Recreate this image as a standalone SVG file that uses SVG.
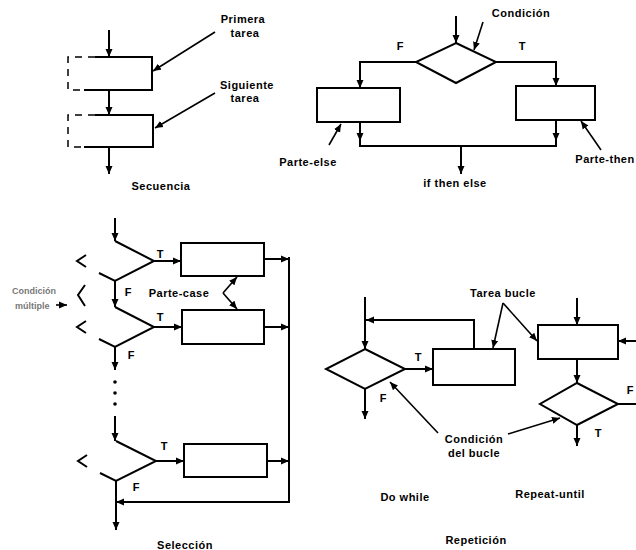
<svg xmlns="http://www.w3.org/2000/svg" width="636" height="550" viewBox="0 0 636 550">
<style>
.ln{fill:none;stroke:#000;stroke-width:2;stroke-linejoin:miter;stroke-linecap:butt}
.thin{fill:none;stroke:#000;stroke-width:1.6}
.dash{fill:none;stroke:#000;stroke-width:1.5;stroke-dasharray:7,6}
.box{fill:#fff;stroke:#000;stroke-width:2}
.t{font-family:"Liberation Sans",Arial,sans-serif;font-weight:bold;font-size:11px;letter-spacing:0.5px;fill:#000;text-anchor:middle}
.lbl{font-family:"Liberation Sans",Arial,sans-serif;font-weight:bold;font-size:11px;fill:#000;text-anchor:middle}
.faint{font-family:"Liberation Sans",Arial,sans-serif;font-weight:bold;font-size:9px;fill:#000;opacity:0.55}
</style>
<defs>
<marker id="ah" markerUnits="userSpaceOnUse" markerWidth="9" markerHeight="8" refX="8" refY="4" orient="auto">
<path d="M0,0.5 L8,4 L0,7.5 z" fill="#000"/>
</marker>
</defs>
<rect width="636" height="550" fill="#fff"/>

<g id="secuencia">
<path class="ln" d="M95,57 H152 V90 H84"/>
<path class="dash" d="M95,57 H68 V90 H84"/>
<path class="ln" d="M95,115 H153 V147 H84"/>
<path class="dash" d="M95,115 H68 V147 H84"/>
<text class="t" x="243" y="23">Primera</text>
<text class="t" x="245" y="37">tarea</text>
<text class="t" x="247" y="89">Siguiente</text>
<text class="t" x="245" y="102">tarea</text>
<text class="t" x="161" y="190">Secuencia</text>
</g>

<g id="if-then-else">
<polygon class="ln" points="456,43 496,62 456,83 416,62"/>
<rect class="box" x="317" y="88" width="83" height="34"/>
<rect class="box" x="516" y="86" width="79" height="34"/>
<text class="t" x="521" y="17">Condición</text>
<text class="lbl" x="400" y="50">F</text>
<text class="lbl" x="522" y="50">T</text>
<text class="t" x="308" y="166">Parte-else</text>
<text class="t" x="605" y="163">Parte-then</text>
<text class="t" x="455" y="187">if then else</text>
</g>

<g id="seleccion">
<path class="ln" d="M115,241 L154,261 L115,281 L99,273"/>
<path class="ln" d="M86,255 L77,261 L86,267"/>
<path class="ln" d="M115,307 L154,327 L115,347 L99,339"/>
<path class="ln" d="M86,321 L77,327 L86,333"/>
<path class="ln" d="M116,441 L156,461 L116,481 L100,473"/>
<path class="ln" d="M87,455 L78,461 L87,467"/>
<rect class="box" x="181" y="243" width="83" height="33"/>
<rect class="box" x="182" y="310" width="82" height="34"/>
<rect class="box" x="184" y="444" width="83" height="33"/>
<circle cx="115" cy="382" r="1.8"/>
<circle cx="115" cy="393" r="1.8"/>
<circle cx="115" cy="404" r="1.8"/>
<text class="lbl" x="160" y="258">T</text>
<text class="lbl" x="128" y="296">F</text>
<text class="lbl" x="160" y="321">T</text>
<text class="lbl" x="131" y="359">F</text>
<text class="lbl" x="164" y="450">T</text>
<text class="lbl" x="136" y="491">F</text>
<text class="t" x="179" y="297">Parte-case</text>
<text class="faint" x="12" y="294">Condición</text>
<text class="faint" x="15" y="309">múltiple</text>
<path class="ln" d="M85,285 L78,295 L85,306"/>
<text class="t" x="185" y="549">Selección</text>
</g>

<g id="repeticion">
<polygon class="ln" points="365,349 405,369 365,389 326,369"/>
<rect class="box" x="433" y="349" width="82" height="36"/>
<rect class="box" x="538" y="325" width="80" height="34"/>
<polygon class="ln" points="577,383 618,404 577,425 540,404"/>
<text class="lbl" x="418" y="361">T</text>
<text class="lbl" x="383" y="402">F</text>
<text class="lbl" x="630" y="394">F</text>
<text class="lbl" x="598" y="437">T</text>
<text class="t" x="503" y="297">Tarea bucle</text>
<text class="t" x="474" y="443">Condición</text>
<text class="t" x="474" y="457">del bucle</text>
<text class="t" x="405" y="501">Do while</text>
<text class="t" x="550" y="498">Repeat-until</text>
<text class="t" x="476" y="544">Repetición</text>
</g>

<g id="connectors">
<!-- secuencia -->
<path class="ln" d="M109,30 V57" marker-end="url(#ah)"/>
<path class="ln" d="M109,90 V115" marker-end="url(#ah)"/>
<path class="ln" d="M109,147 V174" marker-end="url(#ah)"/>
<path class="thin" d="M215,32 L153,71" marker-end="url(#ah)"/>
<path class="thin" d="M215,93 L155,128" marker-end="url(#ah)"/>
<!-- if then else -->
<path class="ln" d="M456,16 V43" marker-end="url(#ah)"/>
<path class="ln" d="M416,62 H360 V88" marker-end="url(#ah)"/>
<path class="ln" d="M496,62 H556 V86" marker-end="url(#ah)"/>
<path class="ln" d="M360,122 V141" marker-end="url(#ah)"/>
<path class="ln" d="M556,120 V141" marker-end="url(#ah)"/>
<path class="ln" d="M360,139 V146 H556 V139"/>
<path class="ln" d="M461,146 V174" marker-end="url(#ah)"/>
<path class="thin" d="M483,22 L474,50" marker-end="url(#ah)"/>
<path class="thin" d="M329,145 L341,124" marker-end="url(#ah)"/>
<path class="thin" d="M601,150 L581,121" marker-end="url(#ah)"/>
<!-- seleccion -->
<path class="ln" d="M115,218 V241" marker-end="url(#ah)"/>
<path class="ln" d="M154,261 H181" marker-end="url(#ah)"/>
<path class="ln" d="M154,327 H182" marker-end="url(#ah)"/>
<path class="ln" d="M156,461 H184" marker-end="url(#ah)"/>
<path class="ln" d="M264,259 H289" marker-end="url(#ah)"/>
<path class="ln" d="M264,327 H289" marker-end="url(#ah)"/>
<path class="ln" d="M267,461 H289" marker-end="url(#ah)"/>
<path class="ln" d="M289,257 V502 H116" marker-end="url(#ah)"/>
<path class="ln" d="M115,281 V307" marker-end="url(#ah)"/>
<path class="ln" d="M115,347 V370" marker-end="url(#ah)"/>
<path class="ln" d="M115,416 V441" marker-end="url(#ah)"/>
<path class="ln" d="M116,481 V530" marker-end="url(#ah)"/>
<path class="thin" d="M223,293 L237,277" marker-end="url(#ah)"/>
<path class="thin" d="M223,293 L237,309" marker-end="url(#ah)"/>
<path class="thin" d="M56,305 L67,305" marker-end="url(#ah)"/>
<!-- repeticion -->
<path class="ln" d="M365,297 V349" marker-end="url(#ah)"/>
<path class="ln" d="M474,349 V320 H366" marker-end="url(#ah)"/>
<path class="ln" d="M405,369 H433" marker-end="url(#ah)"/>
<path class="ln" d="M365,389 V419" marker-end="url(#ah)"/>
<path class="thin" d="M438,433 L390,382" marker-end="url(#ah)"/>
<path class="thin" d="M503,303 L493,348" marker-end="url(#ah)"/>
<path class="thin" d="M503,303 L537,341" marker-end="url(#ah)"/>
<path class="ln" d="M577,298 V325" marker-end="url(#ah)"/>
<path class="ln" d="M636,341 H618" marker-end="url(#ah)"/>
<path class="ln" d="M577,359 V383" marker-end="url(#ah)"/>
<path class="ln" d="M618,404 H636"/>
<path class="ln" d="M577,425 V446" marker-end="url(#ah)"/>
<path class="thin" d="M508,434 L560,418" marker-end="url(#ah)"/>
</g>
</svg>
